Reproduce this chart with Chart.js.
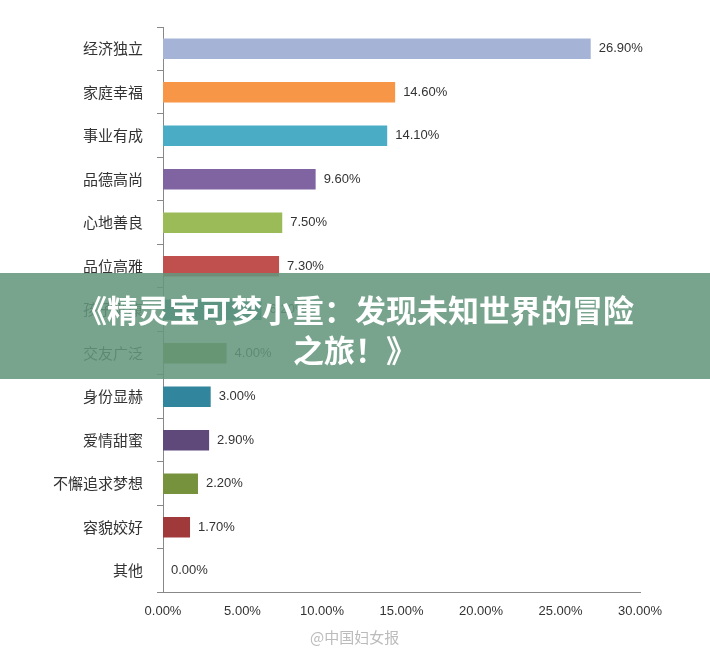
<!DOCTYPE html><html><head><meta charset="utf-8">
<script src="https://cdn.jsdelivr.net/npm/chart.js@4"></script>
<style>body{margin:0;background:#fff;font-family:"Noto Sans CJK SC"}#w{position:relative;width:710px;height:655px}
#b{position:absolute;left:0;top:273px;width:710px;height:106px;background:rgba(100,150,125,0.87);color:#fff;font:bold 31px "Noto Sans CJK SC";text-align:center;line-height:40px;padding-top:16px;box-sizing:border-box}
#m{position:absolute;left:310px;top:626px;color:#bbb;font:15px "Noto Sans CJK SC"}</style></head><body>
<div id="w"><canvas id="c" width="710" height="655"></canvas>
<div id="b">《精灵宝可梦小重：发现未知世界的冒险<br>之旅！》</div><div id="m">@中国妇女报</div></div>
<script>
const categories=["经济独立","家庭幸福","事业有成","品德高尚","心地善良","品位高雅","孩子健康","交友广泛","身份显赫","爱情甜蜜","不懈追求梦想","容貌姣好","其他"];
const values=[26.9,14.6,14.1,9.6,7.5,7.3,6.2,4.0,3.0,2.9,2.2,1.7,0.0];
const colors=["#a5b4d6","#f79646","#4bacc6","#8064a2","#9bbb59","#c0504d","#31859c","#77933c","#31859c","#5f497a","#76923c","#a0393a","#888"];
const xTicks=[0,5,10,15,20,25,30];
const lbl={id:"lbl",afterDatasetsDraw(ch){const x=ch.ctx;x.save();x.font="13px 'Liberation Sans'";x.fillStyle="#333";x.textBaseline="middle";
ch.getDatasetMeta(0).data.forEach((b,i)=>x.fillText(values[i].toFixed(2)+"%",b.x+8,b.y));x.restore();}};
new Chart(document.getElementById("c"),{type:"bar",data:{labels:categories,datasets:[{data:values,backgroundColor:colors,barPercentage:0.47,categoryPercentage:1}]},
options:{indexAxis:"y",responsive:false,animation:false,layout:{padding:{top:27,right:70,bottom:33,left:39}},plugins:{legend:{display:false},tooltip:{enabled:false}},
scales:{x:{min:0,max:30,afterBuildTicks:a=>{a.ticks=xTicks.map(v=>({value:v}))},grid:{display:false},border:{color:"#888"},ticks:{color:"#333",font:{size:13,family:"Liberation Sans"},callback:v=>v.toFixed(2)+"%"}},
y:{grid:{display:true,drawOnChartArea:false,tickLength:6,color:"#888",offset:true},border:{color:"#888"},ticks:{color:"#333",font:{size:15,family:"Noto Sans CJK SC"},padding:14}}}},plugins:[lbl]});
</script></body></html>
